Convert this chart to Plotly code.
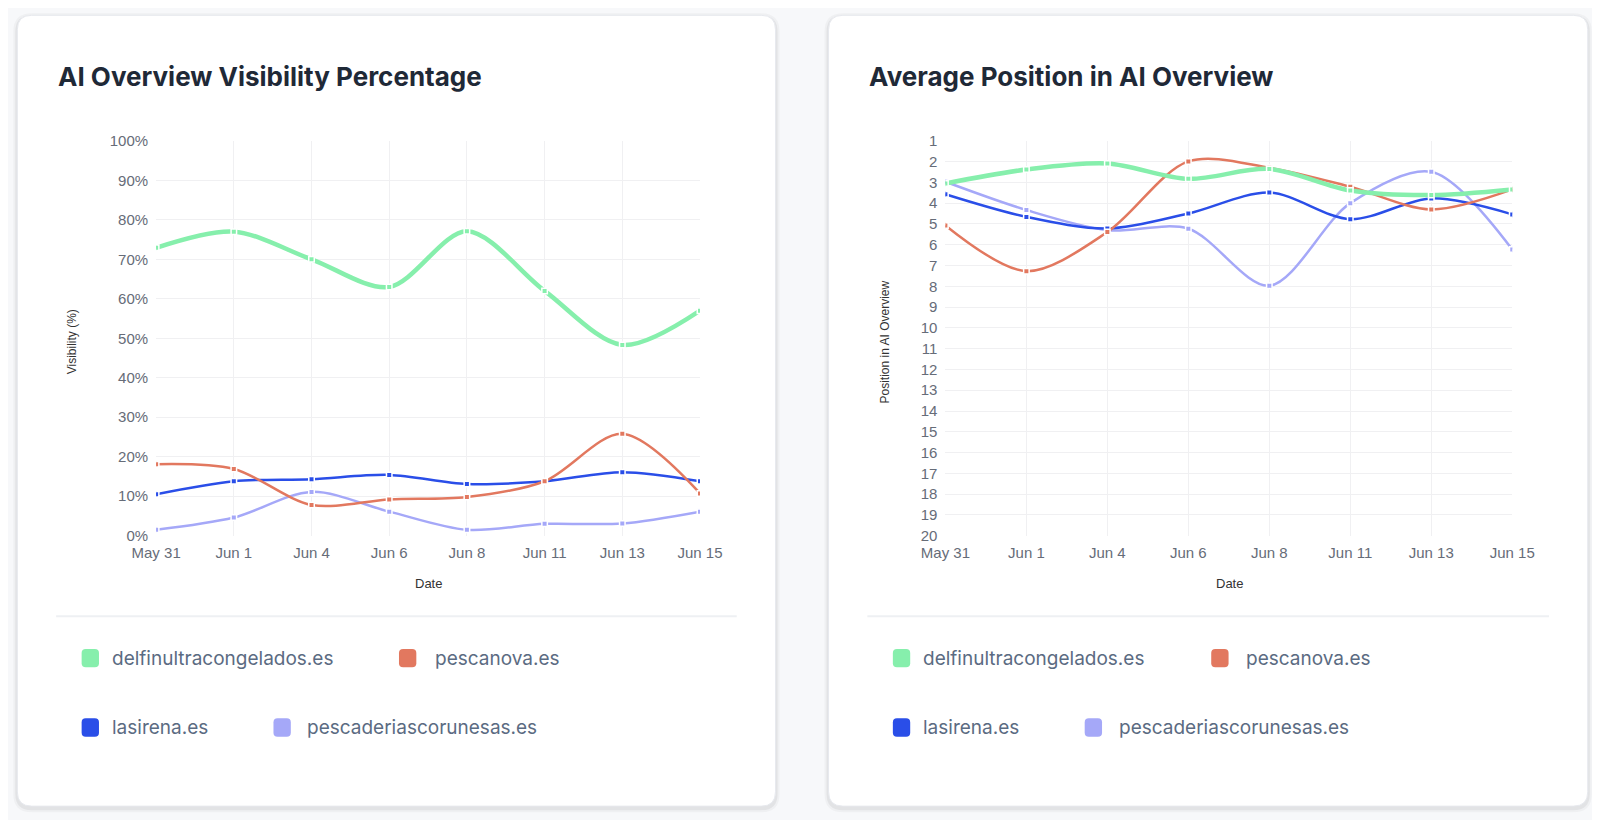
import plotly.graph_objects as go

W, H = 1600, 820
# positions below; the page puts the figure
# 8px in from the corner, so convert picture pixels back into figure pixels
S, OFF = 0.98, 8

# data
dates = ["May 31", "Jun 1", "Jun 4", "Jun 6", "Jun 8", "Jun 11", "Jun 13", "Jun 15"]
sites = ["delfinultracongelados.es", "pescanova.es", "lasirena.es", "pescaderiascorunesas.es"]
colors = ["#86efac", "#e2785f", "#2a4ee8", "#a5a8f8"]

vis_delfin = [72.9, 77.0, 70.0, 63.0, 77.1, 62.0, 48.3, 57.0]
vis_pescanova = [18.1, 16.9, 7.8, 9.2, 9.8, 13.8, 25.8, 10.7]
vis_lasirena = [10.5, 13.8, 14.3, 15.4, 13.1, 13.8, 16.1, 13.8]
vis_coru = [1.5, 4.6, 11.1, 6.1, 1.5, 3.0, 3.1, 6.1]

pos_delfin = [3.05, 2.38, 2.09, 2.83, 2.35, 3.39, 3.61, 3.34]
pos_pescanova = [5.07, 7.27, 5.39, 1.99, 2.3, 3.21, 4.30, 3.34]
pos_lasirena = [3.57, 4.66, 5.22, 4.50, 3.49, 4.77, 3.77, 4.54]
pos_coru = [2.97, 4.33, 5.3, 5.23, 7.97, 4.0, 2.49, 6.23]

vis = [vis_delfin, vis_pescanova, vis_lasirena, vis_coru]
pos = [pos_delfin, pos_pescanova, pos_lasirena, pos_coru]


def px(x):
    return (x / S - OFF) / W


def py(y):
    return 1 - (y / S - OFF) / H


def rrect(x0, y0, x1, y1, r):
    # rounded rect path in paper coords, from pixel box
    rx, ry = r / S / W, r / S / H
    a, b, c, d = px(x0), py(y1), px(x1), py(y0)
    return (f"M{a+rx},{b} L{c-rx},{b} Q{c},{b} {c},{b+ry} L{c},{d-ry} Q{c},{d} {c-rx},{d} "
            f"L{a+rx},{d} Q{a},{d} {a},{d-ry} L{a},{b+ry} Q{a},{b} {a+rx},{b} Z")


fig = go.Figure()

# later datasets underneath, first on top
for i in reversed(range(4)):
    for data, xa, ya in [(vis, "x", "y"), (pos, "x2", "y2")]:
        fig.add_trace(go.Scatter(
            x=dates, y=data[i], xaxis=xa, yaxis=ya,
            mode="lines+markers", name=sites[i], showlegend=False,
            line=dict(color=colors[i], width=4.5 if i == 0 else 2.5, shape="spline", smoothing=0.9),
            marker=dict(symbol="square", size=5.5, color=colors[i], line=dict(color="white", width=1.5)),
        ))

shapes = []
annotations = []
font_main = "Inter, Liberation Sans, sans-serif"
font_axis = "Liberation Sans Narrow, Arial Narrow, Liberation Sans, sans-serif"

cards = [
    dict(box=(17, 15, 760, 790), title="AI Overview Visibility Percentage", tx=55,
         ytitle="Visibility (%)", ytx=70, xdate=420, div=(55, 722),
         leg=[(80, 108, 645), (391, 424, 645), (80, 108, 713), (268, 299, 713)]),
    dict(box=(812, 15, 1556, 790), title="Average Position in AI Overview", tx=850,
         ytitle="Position in AI Overview", ytx=867, xdate=1205, div=(850, 1518),
         leg=[(875, 903, 645), (1187, 1219, 645), (875, 903, 713), (1063, 1095, 713)]),
]

for c in cards:
    x0, y0, x1, y1 = c["box"]
    # soft shadow
    for k, op in [(4, 0.03), (2, 0.05)]:
        shapes.append(dict(type="path", xref="paper", yref="paper", layer="below",
                           path=rrect(x0 - k, y0 - k + 2, x1 + k, y1 + k + 2, 14 + k),
                           fillcolor=f"rgba(0,0,0,{op})", line=dict(width=0)))
    shapes.append(dict(type="path", xref="paper", yref="paper", layer="below",
                       path=rrect(x0, y0, x1, y1, 14), fillcolor="white",
                       line=dict(color="#e7e9ee", width=1)))
    shapes.append(dict(type="line", xref="paper", yref="paper",
                       x0=px(c["div"][0]), x1=px(c["div"][1]), y0=py(604), y1=py(604),
                       line=dict(color="#eef0f3", width=2)))
    annotations.append(dict(xref="paper", yref="paper", x=px(c["tx"]), y=py(75),
                            xanchor="left", yanchor="middle", showarrow=False,
                            text=c["title"],
                            font=dict(family=font_main, size=26, color="#1f2937", weight=700)))
    annotations.append(dict(xref="paper", yref="paper", x=px(c["ytx"]), y=py(335),
                            xanchor="center", yanchor="middle", showarrow=False, textangle=-90,
                            text=c["ytitle"], font=dict(family=font_axis, size=12, color="#333")))
    annotations.append(dict(xref="paper", yref="paper", x=px(c["xdate"]), y=py(572),
                            xanchor="center", yanchor="middle", showarrow=False,
                            text="Date", font=dict(family=font_axis, size=13, color="#333")))
    for i, (sx, tx, ly) in enumerate(c["leg"]):
        shapes.append(dict(type="path", xref="paper", yref="paper",
                           path=rrect(sx, ly - 9, sx + 17, ly + 9, 4),
                           fillcolor=colors[i], line=dict(width=0)))
        annotations.append(dict(xref="paper", yref="paper", x=px(tx), y=py(ly),
                                xanchor="left", yanchor="middle", showarrow=False,
                                text=sites[i],
                                font=dict(family=font_main, size=19, color="#5b6b82")))

tickfont = dict(family="Liberation Sans, Arial, sans-serif", size=15, color="#666c78")
xcommon = dict(type="category", range=[0, 7], showgrid=True, gridcolor="#f0f0f2", gridwidth=1,
               zeroline=False, showline=False, ticks="outside", ticklen=3, tickcolor="rgba(0,0,0,0)",
               tickfont=tickfont, fixedrange=True, automargin=False)
ycommon = dict(showgrid=True, gridcolor="#f0f0f2", gridwidth=1, zeroline=False, showline=False,
               ticks="outside", ticklen=4, tickcolor="rgba(0,0,0,0)", tickfont=tickfont,
               fixedrange=True, automargin=False)

fig.update_layout(
    width=W, height=H,
    margin=dict(l=0, r=0, t=0, b=0, pad=0, autoexpand=False),
    paper_bgcolor="#f7f8fa", plot_bgcolor="white",
    xaxis=dict(domain=[px(153), px(686)], anchor="y", **xcommon),
    yaxis=dict(domain=[py(525), py(138)], anchor="x", range=[0, 100], dtick=10,
               ticksuffix="%", **ycommon),
    xaxis2=dict(domain=[px(926.5), px(1482)], anchor="y2", **xcommon),
    yaxis2=dict(domain=[py(525), py(138)], anchor="x2", range=[20, 1], dtick=1, tick0=1,
                **ycommon),
    shapes=shapes,
    annotations=annotations,
    showlegend=False,
    hovermode="x",
)

fig.write_html("out.html")
